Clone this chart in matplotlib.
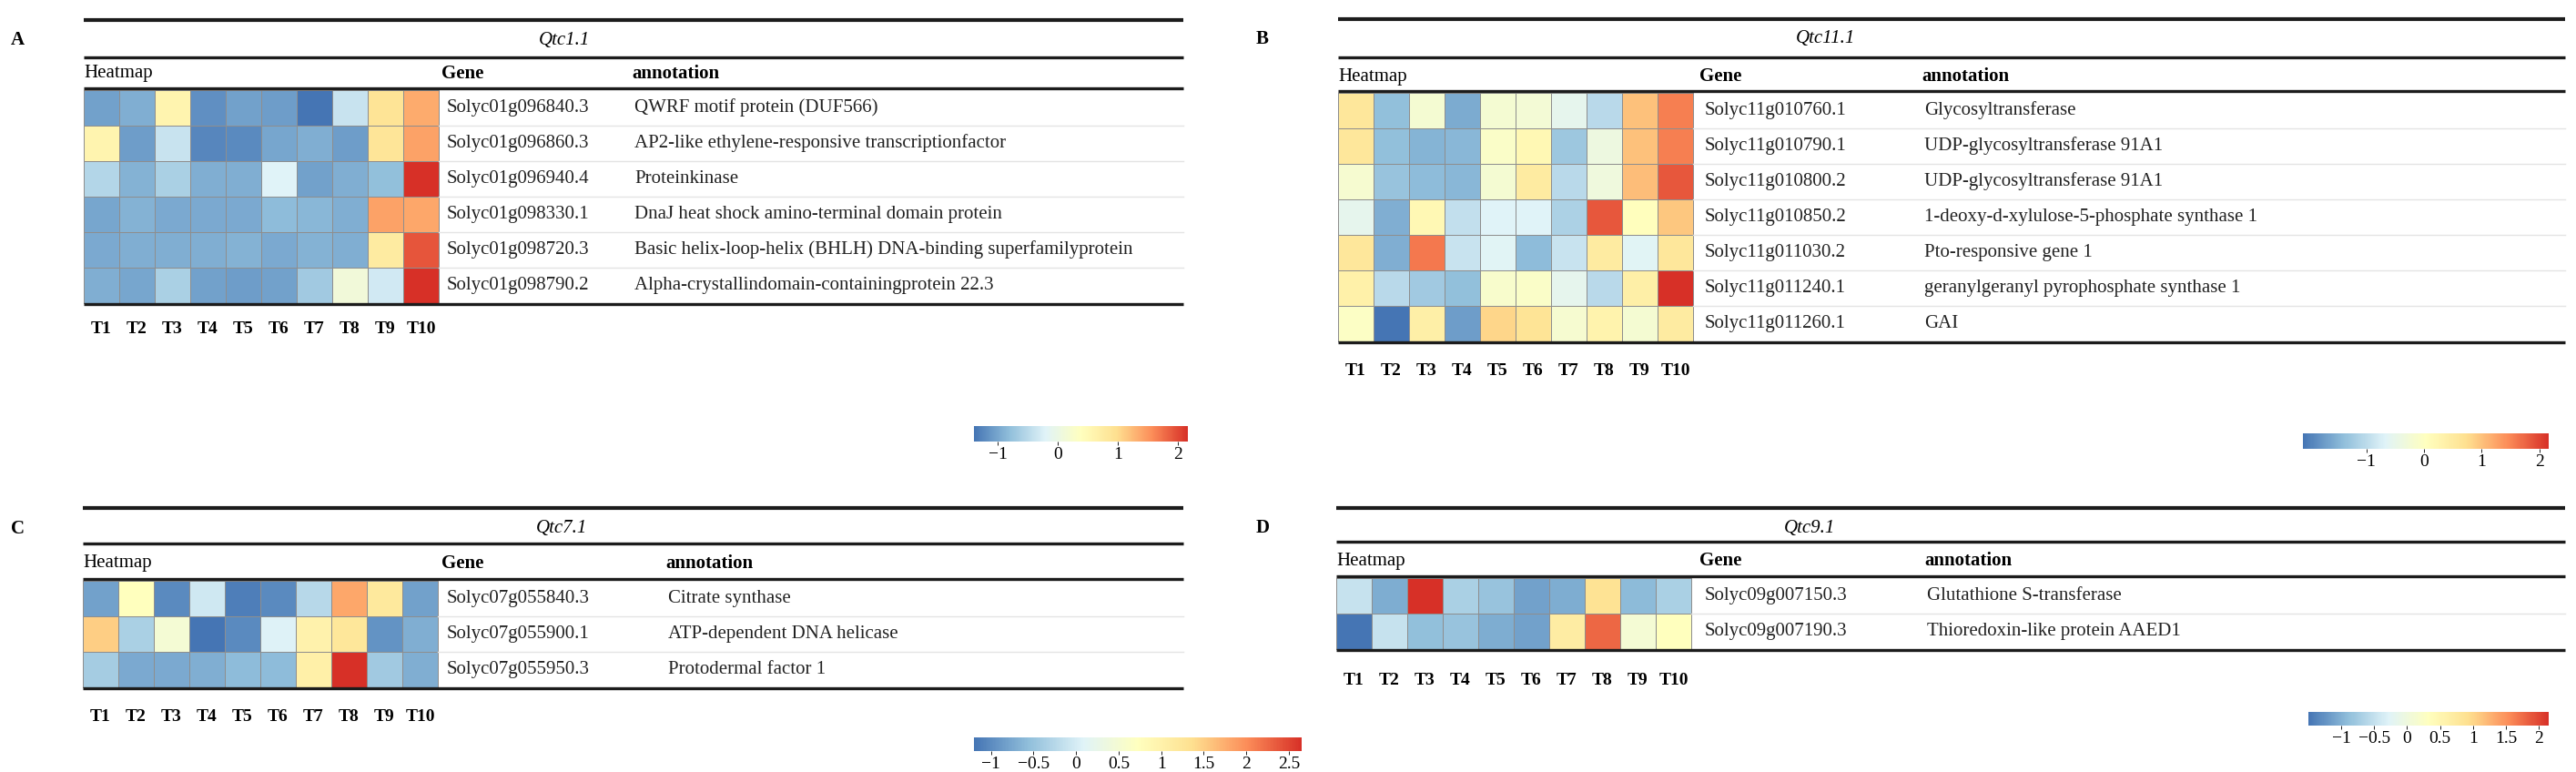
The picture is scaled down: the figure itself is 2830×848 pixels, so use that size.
import numpy as np
import matplotlib.pyplot as plt
from matplotlib.colors import LinearSegmentedColormap
from matplotlib.ticker import FuncFormatter

plt.rcParams["font.family"] = ["Liberation Serif", "DejaVu Serif"]

W, H = 2830, 848
CELL = 39  # heatmap cell size in pixels

time_points = ["T1", "T2", "T3", "T4", "T5", "T6", "T7", "T8", "T9", "T10"]

# Panel A: Qtc1.1
a_genes = ["Solyc01g096840.3", "Solyc01g096860.3", "Solyc01g096940.4",
           "Solyc01g098330.1", "Solyc01g098720.3", "Solyc01g098790.2"]
a_notes = ["QWRF motif protein (DUF566)",
           "AP2-like ethylene-responsive transcriptionfactor",
           "Proteinkinase",
           "DnaJ heat shock amino-terminal domain protein",
           "Basic helix-loop-helix (BHLH) DNA-binding superfamilyprotein",
           "Alpha-crystallindomain-containingprotein 22.3"]
a_values = [
    [-1.04, -0.93, 0.58, -1.18, -1.04, -1.08, -1.40, -0.39, 0.90, 1.34],
    [0.58, -1.08, -0.39, -1.26, -1.22, -1.00, -0.93, -1.08, 0.87, 1.41],
    [-0.54, -0.90, -0.61, -0.93, -0.93, -0.21, -1.04, -0.93, -0.79, 2.16],
    [-1.00, -0.90, -0.97, -0.97, -0.97, -0.82, -0.86, -0.93, 1.41, 1.37],
    [-0.97, -0.93, -0.93, -0.93, -0.90, -0.97, -0.90, -0.93, 0.76, 1.91],
    [-0.93, -1.00, -0.61, -1.04, -1.08, -1.04, -0.68, 0.11, -0.32, 2.16],
]
a_ticks = [-1, 0, 1, 2]

# Panel B: Qtc11.1
b_genes = ["Solyc11g010760.1", "Solyc11g010790.1", "Solyc11g010800.2",
           "Solyc11g010850.2", "Solyc11g011030.2", "Solyc11g011240.1",
           "Solyc11g011260.1"]
b_notes = ["Glycosyltransferase",
           "UDP-glycosyltransferase 91A1",
           "UDP-glycosyltransferase 91A1",
           "1-deoxy-d-xylulose-5-phosphate synthase 1",
           "Pto-responsive gene 1",
           "geranylgeranyl pyrophosphate synthase 1",
           "GAI"]
b_values = [
    [0.57, -1.37, -0.21, -1.58, -0.21, -0.25, -0.55, -1.03, 1.00, 1.56],
    [0.57, -1.37, -1.50, -1.46, -0.08, 0.18, -1.28, -0.38, 1.00, 1.56],
    [-0.17, -1.33, -1.41, -1.46, -0.21, 0.48, -1.03, -0.34, 1.04, 1.86],
    [-0.55, -1.54, 0.18, -0.94, -0.68, -0.68, -1.15, 1.86, 0.05, 0.95],
    [0.57, -1.54, 1.60, -0.90, -0.64, -1.41, -0.90, 0.48, -0.64, 0.57],
    [0.35, -1.03, -1.24, -1.37, -0.12, -0.08, -0.55, -1.03, 0.39, 2.16],
    [-0.04, -2.10, 0.39, -1.71, 0.82, 0.65, -0.17, 0.31, -0.21, 0.48],
]
b_ticks = [-1, 0, 1, 2]

# Panel C: Qtc7.1
c_genes = ["Solyc07g055840.3", "Solyc07g055900.1", "Solyc07g055950.3"]
c_notes = ["Citrate synthase", "ATP-dependent DNA helicase", "Protodermal factor 1"]
c_values = [
    [-0.82, 0.73, -1.01, -0.05, -1.12, -1.01, -0.24, 1.80, 1.19, -0.82],
    [1.50, -0.35, 0.49, -1.20, -1.01, 0.07, 0.99, 1.23, -0.93, -0.70],
    [-0.39, -0.74, -0.74, -0.70, -0.58, -0.58, 1.03, 2.65, -0.43, -0.70],
]
c_ticks = [-1, -0.5, 0, 0.5, 1, 1.5, 2, 2.5]

# Panel D: Qtc9.1
d_genes = ["Solyc09g007150.3", "Solyc09g007190.3"]
d_notes = ["Glutathione S-transferase", "Thioredoxin-like protein AAED1"]
d_values = [
    [-0.48, -1.03, 2.15, -0.70, -0.84, -1.14, -1.03, 0.87, -0.92, -0.70],
    [-1.50, -0.48, -0.88, -0.84, -1.03, -1.14, 0.69, 1.79, 0.11, 0.33],
]
d_ticks = [-1, -0.5, 0, 0.5, 1, 1.5, 2]

# pheatmap-like palette
cmap = LinearSegmentedColormap.from_list(
    "pheat", ["#4575b4", "#91bfdb", "#e0f3f8", "#ffffbf", "#fee090", "#fc8d59", "#d73027"])

LINE = "#1c1c1c"
tick_fmt = FuncFormatter(lambda v, pos: f"{v:g}".replace("-", "\u2212"))


def draw_panel(fig, ax, letter, qtl, genes, notes, values, ticks, lay):
    values = np.asarray(values)
    left, right = lay["left"], lay["right"]
    n_rows = values.shape[0]

    ax.text(lay["letter_x"], lay["title_y"], letter, fontsize=15, fontweight="bold",
            ha="left", va="center")
    ax.plot([left, right], [lay["top"]] * 2, color=LINE, lw=3.0, solid_capstyle="butt")
    ax.text(lay["title_x"], lay["title_y"], qtl, fontsize=15, style="italic",
            ha="center", va="center")
    ax.plot([left, right], [lay["line2"]] * 2, color=LINE, lw=2.4, solid_capstyle="butt")

    ax.text(left, lay["head_y"], "Heatmap", fontsize=15, ha="left", va="center")
    ax.text(lay["gene_x"] - 6, lay["head_y"], "Gene", fontsize=15, fontweight="bold",
            ha="left", va="center")
    ax.text(lay["note_x"], lay["head_y"], "annotation", fontsize=15, fontweight="bold",
            ha="left", va="center")
    ax.plot([left, right], [lay["head_line"]] * 2, color=LINE, lw=2.4, solid_capstyle="butt")

    row0 = lay["head_line"] + 2
    xe = left + CELL * np.arange(values.shape[1] + 1)
    ye = row0 + CELL * np.arange(n_rows + 1)
    mesh = ax.pcolormesh(xe, ye, values, cmap=cmap, vmin=values.min(), vmax=values.max(),
                         edgecolors="#8e8e8e", linewidth=0.5)

    for i, (g, a) in enumerate(zip(genes, notes)):
        yc = row0 + CELL * (i + 0.5)
        ax.text(lay["gene_x"], yc, g, fontsize=15, ha="left", va="center", color="#222222")
        ax.text(lay["note_x"] + 3, yc, a, fontsize=15, ha="left", va="center", color="#222222")
        if i > 0:
            ax.plot([xe[-1], right], [row0 + CELL * i] * 2, color="#e4e4e4", lw=1.0)

    bottom = row0 + CELL * n_rows + 1
    ax.plot([left, right], [bottom] * 2, color=LINE, lw=2.4, solid_capstyle="butt")

    for j, t in enumerate(time_points):
        ax.text(left + CELL * (j + 0.5), bottom + lay["t_gap"], t, fontsize=14,
                fontweight="bold", ha="center", va="center")

    cx0, cx1, cy, ch = lay["cbar"]
    cax = fig.add_axes([cx0 / W, 1 - (cy + ch) / H, (cx1 - cx0) / W, ch / H])
    cb = fig.colorbar(mesh, cax=cax, orientation="horizontal", ticks=ticks, format=tick_fmt)
    cb.outline.set_visible(False)
    cax.tick_params(length=3, width=0.6, labelsize=14, pad=1)


fig = plt.figure(figsize=(W / 100, H / 100), dpi=100)
ax = fig.add_axes([0, 0, 1, 1])
ax.set_xlim(0, W)
ax.set_ylim(H, 0)
ax.axis("off")

layouts = {
    "A": dict(left=92, right=1300, top=22, title_x=620, title_y=44, line2=63,
              head_y=81, head_line=97, gene_x=491, note_x=694, letter_x=12, t_gap=27,
              cbar=(1070, 1305, 468, 17)),
    "B": dict(left=1470, right=2818, top=21, title_x=2006, title_y=43, line2=63,
              head_y=84, head_line=100, gene_x=1873, note_x=2111, letter_x=1380, t_gap=32,
              cbar=(2530, 2800, 476, 17)),
    "C": dict(left=91, right=1300, top=558, title_x=617, title_y=581, line2=597,
              head_y=619, head_line=636, gene_x=491, note_x=731, letter_x=12, t_gap=31,
              cbar=(1070, 1430, 810, 15)),
    "D": dict(left=1468, right=2818, top=558, title_x=1988, title_y=580, line2=595,
              head_y=616, head_line=633, gene_x=1873, note_x=2114, letter_x=1380, t_gap=33,
              cbar=(2536, 2800, 782, 15)),
}

draw_panel(fig, ax, "A", "Qtc1.1", a_genes, a_notes, a_values, a_ticks, layouts["A"])
draw_panel(fig, ax, "B", "Qtc11.1", b_genes, b_notes, b_values, b_ticks, layouts["B"])
draw_panel(fig, ax, "C", "Qtc7.1", c_genes, c_notes, c_values, c_ticks, layouts["C"])
draw_panel(fig, ax, "D", "Qtc9.1", d_genes, d_notes, d_values, d_ticks, layouts["D"])

fig.savefig("out.png", dpi=100)
